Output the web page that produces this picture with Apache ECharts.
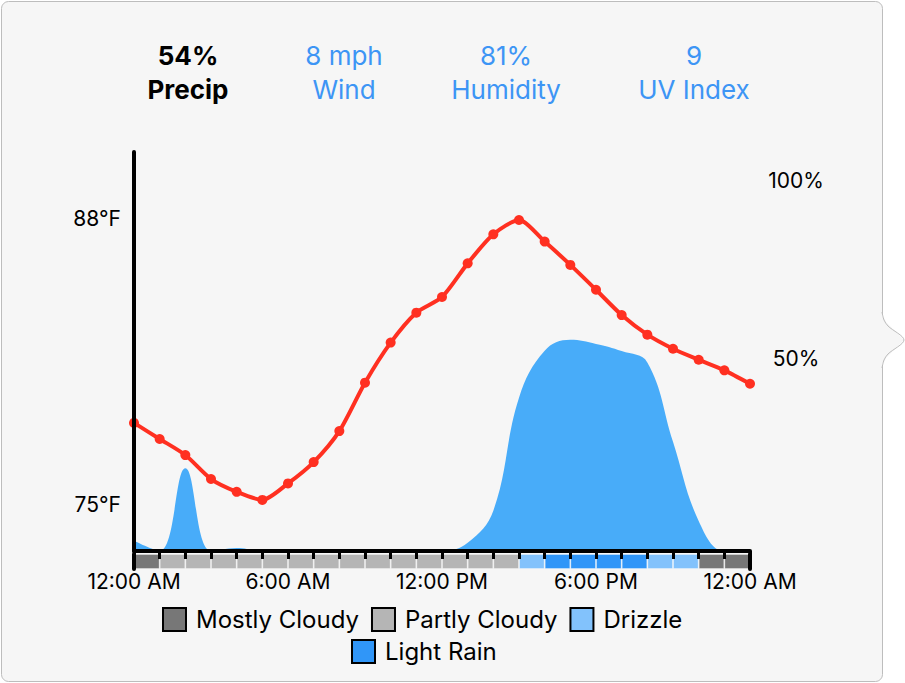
<!DOCTYPE html>
<html>
<head>
<meta charset="utf-8">
<script src="https://cdn.jsdelivr.net/npm/echarts@6/dist/echarts.min.js"></script>
<style>
html,body{margin:0;padding:0;background:#fff;}
#chart{width:905px;height:683px;}
</style>
</head>
<body>
<div id="chart"></div>
<script>
// ---------- data ----------
const hours = [0,1,2,3,4,5,6,7,8,9,10,11,12,13,14,15,16,17,18,19,20,21,22,23,24];
const temperatureF = [78.7,77.97,77.24,76.15,75.57,75.2,75.95,76.92,78.33,80.53,82.35,83.71,84.42,85.95,87.27,87.92,86.94,85.88,84.75,83.6,82.71,82.07,81.57,81.09,80.48];
const precipPct = [2.7,0,22,0,0.8,0,0,0,0,0,0,0,0,2.2,10.7,40.7,53.2,56.1,55,53.1,50.1,29,8,0,0];
const hourLabels = ['0','1','2','3','4','5','6','7','8','9','10','11','12','13','14','15','16','17','18','19','20','21','22','23'];
const hourlyConditions = ['Mostly Cloudy','Partly Cloudy','Partly Cloudy','Partly Cloudy','Partly Cloudy','Partly Cloudy','Partly Cloudy','Partly Cloudy','Partly Cloudy','Partly Cloudy','Partly Cloudy','Partly Cloudy','Partly Cloudy','Partly Cloudy','Partly Cloudy','Drizzle','Light Rain','Light Rain','Light Rain','Light Rain','Drizzle','Drizzle','Mostly Cloudy','Mostly Cloudy'];
const conditionNames = ['Mostly Cloudy','Partly Cloudy','Drizzle','Light Rain'];
const xTickValues = [0,6,12,18,24];
const xTickLabels = ['12:00 AM','6:00 AM','12:00 PM','6:00 PM','12:00 AM'];
const tempTickValues = [75,88];
const precipTickValues = [50,100];
const statValues = ['54%','8 mph','81%','9'];
const statLabels = ['Precip','Wind','Humidity','UV Index'];

// ---------- styles ----------
const conditionColors = {'Mostly Cloudy':'#777777','Partly Cloudy':'#b5b5b5','Drizzle':'#82c2fc','Light Rain':'#3096f8'};
const FONT = 'Inter, "Liberation Sans", Arial, sans-serif';
const statX = [188,344,506,694];
const BLUE = '#3d95f5';

const chart = echarts.init(document.getElementById('chart'), null, {renderer:'svg'});

const graphics = [
  {type:'rect', z:-10, silent:true, shape:{x:1.5,y:1.5,width:881,height:680,r:7}, style:{fill:'#f6f6f6', stroke:'#bdbdbd', lineWidth:1}},
  {type:'polygon', z:-9, silent:true, shape:{points:[[881.5,312],[886,322],[904,340],[886,358],[881.5,368]]}, style:{fill:'#f6f6f6', stroke:null}},
  {type:'polyline', z:-9, silent:true, shape:{points:[[882,312],[884,320],[888,326],[904,340],[888,354],[884,360],[882,368]], smooth:0.3}, style:{fill:null, stroke:'#bdbdbd', lineWidth:1}}
];
statValues.forEach((v,i)=>{
  const first = i===0;
  graphics.push({type:'text', z:10, style:{text:v, x:statX[i], y:55, textAlign:'center', textVerticalAlign:'middle', align:'center', verticalAlign:'middle', fontSize:26, fontWeight: first?'bold':'normal', fontFamily:FONT, fill: first?'#000':BLUE}});
  graphics.push({type:'text', z:10, style:{text:statLabels[i], x:statX[i], y:89, textAlign:'center', textVerticalAlign:'middle', align:'center', verticalAlign:'middle', fontSize:26, fontWeight: first?'bold':'normal', fontFamily:FONT, fill: first?'#000':BLUE}});
});

const stripSeries = conditionNames.map(name => ({
  name: name,
  type:'bar',
  xAxisIndex:1, yAxisIndex:2,
  barWidth:'100%', barGap:'-100%',
  itemStyle:{color:conditionColors[name], borderColor:'rgba(255,255,255,0.35)', borderWidth:1},
  data: hourlyConditions.map(c => c===name ? 1 : '-'),
  z:1
}));

const legendCommon = {
  orient:'horizontal', icon:'rect', itemWidth:23, itemHeight:23, itemGap:12, padding:0,
  itemStyle:{borderColor:'#000', borderWidth:2},
  textStyle:{fontFamily:FONT, fontSize:24, color:'#000', padding:[0,0,0,5]},
  selectedMode:false
};

const option = {
  backgroundColor:'#ffffff',
  animation:false,
  graphic: graphics,
  legend:[
    Object.assign({}, legendCommon, {data:conditionNames.slice(0,3), left:162, top:607}),
    Object.assign({}, legendCommon, {data:conditionNames.slice(3), left:351, top:639})
  ],
  grid:[
    {left:134, right:155, top:152, bottom:132},
    {left:134, right:155, top:554, bottom:114}
  ],
  xAxis:[
    {type:'value', gridIndex:0, min:0, max:24, interval:1, z:10,
     axisLine:{show:true, lineStyle:{color:'#000', width:4}},
     axisTick:{show:true, length:8, lineStyle:{color:'#000', width:3}},
     axisLabel:{customValues:xTickValues, formatter:(v)=>xTickLabels[xTickValues.indexOf(v)], color:'#000', fontFamily:FONT, fontSize:21, margin:20},
     splitLine:{show:false}},
    {type:'category', gridIndex:1, data:hourLabels, boundaryGap:true, show:false}
  ],
  yAxis:[
    {type:'value', gridIndex:0, min:72.88, max:91.01, position:'left', z:10,
     axisLine:{show:true, lineStyle:{color:'#000', width:4}},
     axisTick:{show:false},
     axisLabel:{customValues:tempTickValues, formatter:(v)=>v+'°F', color:'#000', fontFamily:FONT, fontSize:21, margin:13},
     splitLine:{show:false}},
    {type:'value', gridIndex:0, min:0, max:106, position:'right',
     axisLine:{show:false}, axisTick:{show:false},
     axisLabel:{customValues:precipTickValues,
       formatter:(v)=> v===100 ? '{lo|'+v+'%}' : '{hi|'+v+'%}',
       rich:{
         lo:{fontFamily:FONT, fontSize:21, color:'#000', padding:[11,0,0,0]},
         hi:{fontFamily:FONT, fontSize:21, color:'#000', padding:[0,0,9,0]}
       },
       color:'#000', fontFamily:FONT, fontSize:21, margin:46, align:'center'},
     splitLine:{show:false}},
    {type:'value', gridIndex:1, min:0, max:1, position:'left', z:10,
     axisLine:{show:true, lineStyle:{color:'#000', width:4}},
     axisTick:{show:false}, axisLabel:{show:false}, splitLine:{show:false}},
    {type:'value', gridIndex:1, min:0, max:1, position:'right', z:10,
     axisLine:{show:true, lineStyle:{color:'#000', width:4}},
     axisTick:{show:false}, axisLabel:{show:false}, splitLine:{show:false}}
  ],
  series:[
    {name:'Precip', type:'line', xAxisIndex:0, yAxisIndex:1, smooth:0.4,
     data: hours.map((h,i)=>[h, precipPct[i]]),
     showSymbol:false, lineStyle:{width:0}, areaStyle:{color:'#48acf9', opacity:1}, z:1},
    {name:'Temperature', type:'line', xAxisIndex:0, yAxisIndex:0, smooth:0.25,
     data: hours.map((h,i)=>[h, temperatureF[i]]),
     symbol:'circle', symbolSize:10, showSymbol:true,
     lineStyle:{color:'#ff3021', width:4}, itemStyle:{color:'#ff3021'}, z:5}
  ].concat(stripSeries)
};
chart.setOption(option);
</script>
</body>
</html>
